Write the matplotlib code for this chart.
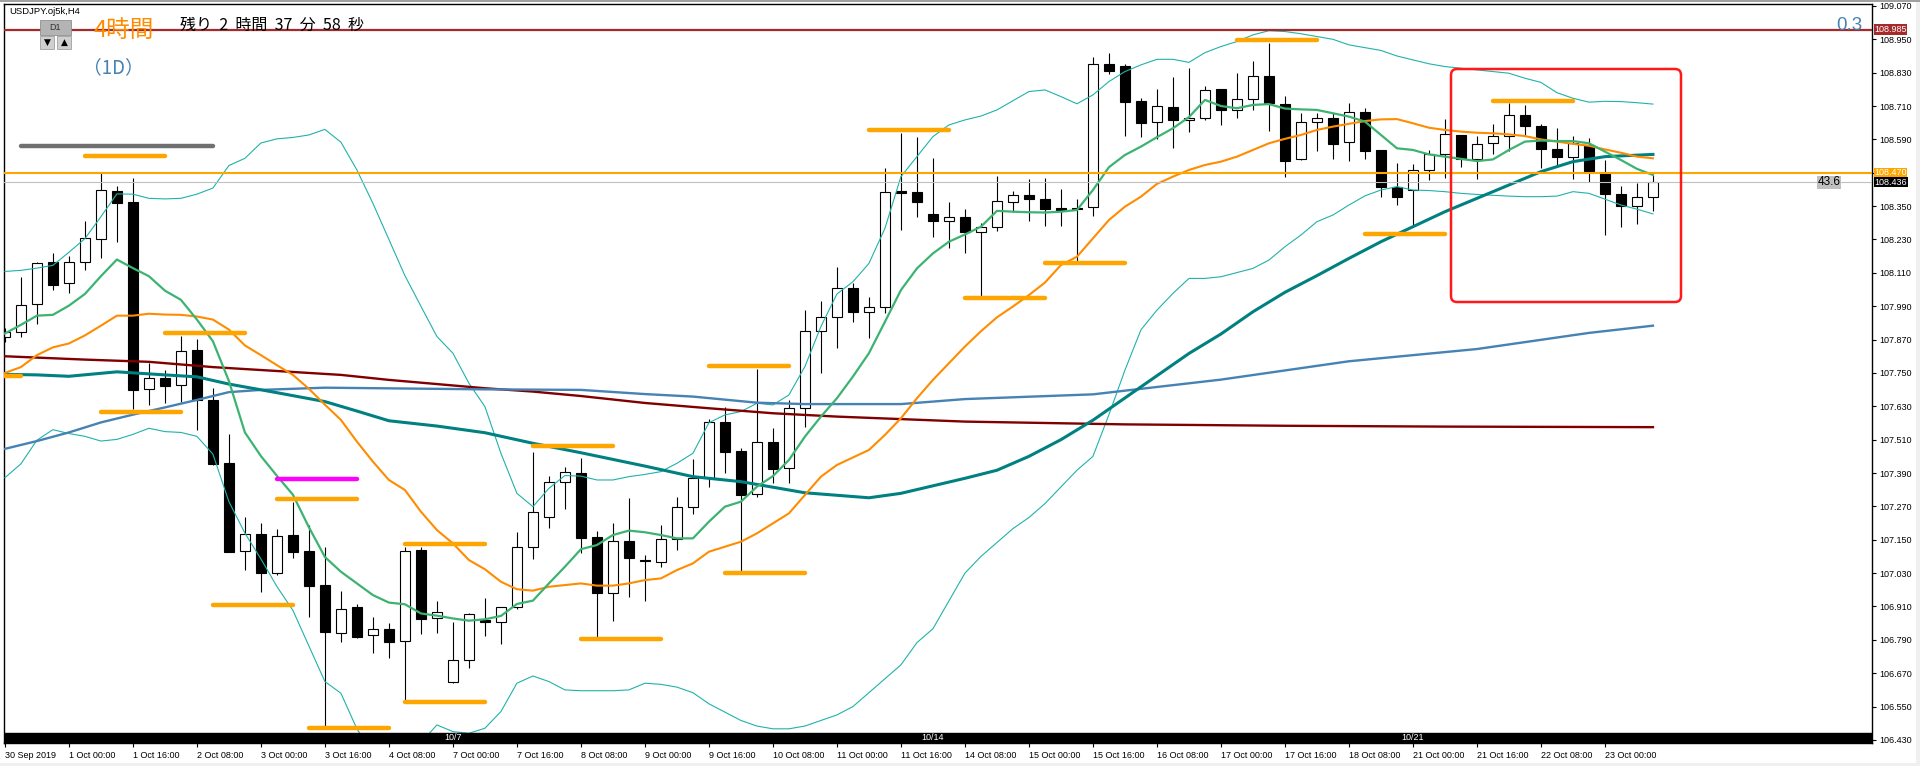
import numpy as np
import matplotlib
matplotlib.use("Agg")
import matplotlib.pyplot as plt
from matplotlib.patches import Rectangle, FancyBboxPatch
from matplotlib.transforms import IdentityTransform, blended_transform_factory

plt.rcParams['font.family'] = ['Liberation Sans', 'DejaVu Sans']

# --- H4 candles, bar 0 = 30 Sep 08:00 ---
opens = [107.881, 107.896, 107.997, 108.148, 108.073, 108.148, 108.230, 108.403, 108.366, 107.691,
         107.733, 107.706, 107.832, 107.653, 107.425, 107.110, 107.169, 107.032, 107.167, 107.110,
         106.987, 106.816, 106.908, 106.806, 106.828, 106.785, 107.113, 106.867, 106.640, 106.718,
         106.861, 106.853, 106.907, 107.125, 107.233, 107.359, 107.389, 107.159, 106.957, 107.146,
         107.077, 107.071, 107.152, 107.267, 107.373, 107.572, 107.469, 107.313, 107.500, 107.407,
         107.623, 107.901, 107.950, 108.054, 107.968, 107.986, 108.404, 108.400, 108.321, 108.297,
         108.310, 108.256, 108.276, 108.366, 108.389, 108.375, 108.342, 108.345, 108.346, 108.860,
         108.854, 108.728, 108.651, 108.707, 108.658, 108.666, 108.771, 108.694, 108.734, 108.818,
         108.718, 108.518, 108.652, 108.666, 108.580, 108.690, 108.552, 108.420, 108.408, 108.480,
         108.536, 108.606, 108.520, 108.576, 108.604, 108.678, 108.638, 108.556, 108.528, 108.570,
         108.468, 108.393, 108.352, 108.382]
highs = [107.913, 108.095, 108.148, 108.181, 108.169, 108.297, 108.471, 108.422, 108.451, 107.785,
         107.761, 107.883, 107.871, 107.696, 107.529, 107.231, 107.209, 107.188, 107.287, 107.202,
         107.124, 106.966, 106.919, 106.873, 106.852, 107.125, 107.125, 106.930, 106.855, 106.885,
         106.942, 106.907, 107.177, 107.465, 107.379, 107.413, 107.443, 107.182, 107.209, 107.299,
         107.095, 107.203, 107.305, 107.441, 107.584, 107.626, 107.479, 107.763, 107.551, 107.653,
         107.977, 108.009, 108.130, 108.075, 108.024, 108.486, 108.612, 108.598, 108.522, 108.364,
         108.340, 108.291, 108.458, 108.404, 108.446, 108.450, 108.411, 108.376, 108.885, 108.900,
         108.861, 108.738, 108.771, 108.813, 108.846, 108.782, 108.771, 108.830, 108.872, 108.938,
         108.746, 108.684, 108.684, 108.684, 108.722, 108.702, 108.552, 108.504, 108.502, 108.552,
         108.662, 108.606, 108.602, 108.646, 108.722, 108.714, 108.646, 108.630, 108.602, 108.594,
         108.516, 108.423, 108.432, 108.462]
lows = [107.860, 107.881, 107.925, 108.048, 108.038, 108.122, 108.165, 108.222, 107.619, 107.636,
        107.642, 107.647, 107.546, 107.420, 107.106, 107.043, 106.963, 107.024, 107.084, 106.871,
        106.477, 106.784, 106.796, 106.742, 106.726, 106.565, 106.810, 106.813, 106.636, 106.688,
        106.805, 106.774, 106.900, 107.080, 107.194, 107.261, 107.101, 106.798, 106.859, 106.943,
        106.931, 107.051, 107.113, 107.243, 107.338, 107.389, 107.038, 107.305, 107.353, 107.353,
        107.557, 107.751, 107.839, 107.935, 107.875, 107.964, 108.264, 108.310, 108.238, 108.198,
        108.180, 108.027, 108.262, 108.330, 108.298, 108.280, 108.280, 108.154, 108.316, 108.824,
        108.604, 108.600, 108.592, 108.560, 108.618, 108.660, 108.640, 108.668, 108.696, 108.622,
        108.453, 108.516, 108.550, 108.520, 108.512, 108.520, 108.384, 108.354, 108.279, 108.444,
        108.450, 108.492, 108.448, 108.538, 108.550, 108.606, 108.486, 108.492, 108.448, 108.438,
        108.246, 108.276, 108.286, 108.333]
closes = [107.899, 107.994, 108.144, 108.068, 108.148, 108.236, 108.407, 108.363, 107.690, 107.731,
          107.704, 107.828, 107.653, 107.423, 107.107, 107.169, 107.032, 107.164, 107.107, 106.984,
          106.817, 106.900, 106.801, 106.828, 106.784, 107.110, 106.866, 106.891, 106.718, 106.882,
          106.855, 106.907, 107.123, 107.249, 107.357, 107.393, 107.158, 106.957, 107.146, 107.086,
          107.073, 107.152, 107.267, 107.373, 107.572, 107.467, 107.311, 107.501, 107.406, 107.623,
          107.901, 107.950, 108.054, 107.968, 107.986, 108.400, 108.396, 108.364, 108.298, 108.310,
          108.256, 108.274, 108.367, 108.389, 108.375, 108.339, 108.336, 108.341, 108.860, 108.837,
          108.726, 108.650, 108.710, 108.658, 108.666, 108.767, 108.694, 108.734, 108.818, 108.720,
          108.514, 108.652, 108.666, 108.574, 108.690, 108.550, 108.420, 108.382, 108.480, 108.536,
          108.608, 108.520, 108.572, 108.604, 108.678, 108.638, 108.556, 108.528, 108.576, 108.478,
          108.394, 108.352, 108.382, 108.436]

# --- indicator lines (value per bar) ---
bb_upper = [108.115, 108.119, 108.127, 108.137, 108.184, 108.233, 108.312, 108.394, 108.393, 108.378,
            108.376, 108.378, 108.393, 108.415, 108.496, 108.522, 108.577, 108.592, 108.597, 108.606,
            108.626, 108.580, 108.480, 108.360, 108.230, 108.100, 107.990, 107.881, 107.821, 107.713,
            107.629, 107.461, 107.317, 107.269, 107.335, 107.381, 107.379, 107.365, 107.365, 107.377,
            107.385, 107.395, 107.425, 107.461, 107.571, 107.599, 107.611, 107.641, 107.635, 107.671,
            107.773, 107.917, 108.034, 108.078, 108.144, 108.270, 108.456, 108.528, 108.600, 108.642,
            108.660, 108.674, 108.696, 108.729, 108.762, 108.768, 108.744, 108.718, 108.750, 108.798,
            108.834, 108.858, 108.878, 108.878, 108.867, 108.902, 108.924, 108.942, 108.966, 108.981,
            108.978, 108.970, 108.960, 108.950, 108.930, 108.920, 108.910, 108.890, 108.876, 108.862,
            108.852, 108.846, 108.840, 108.834, 108.828, 108.810, 108.795, 108.758, 108.738, 108.724,
            108.727, 108.726, 108.722, 108.717]
bb_lower = [107.373, 107.423, 107.508, 107.546, 107.532, 107.522, 107.505, 107.511, 107.529, 107.551,
            107.539, 107.536, 107.522, 107.458, 107.287, 107.174, 107.081, 106.982, 106.896, 106.768,
            106.640, 106.598, 106.470, 106.380, 106.330, 106.330, 106.420, 106.484, 106.460, 106.454,
            106.472, 106.532, 106.634, 106.660, 106.640, 106.610, 106.607, 106.607, 106.607, 106.610,
            106.634, 106.630, 106.620, 106.600, 106.560, 106.530, 106.500, 106.480, 106.470, 106.470,
            106.480, 106.500, 106.520, 106.550, 106.600, 106.650, 106.700, 106.780, 106.830, 106.930,
            107.030, 107.090, 107.140, 107.190, 107.230, 107.280, 107.340, 107.400, 107.450, 107.600,
            107.760, 107.905, 107.976, 108.036, 108.090, 108.090, 108.096, 108.111, 108.126, 108.156,
            108.204, 108.246, 108.294, 108.318, 108.354, 108.387, 108.408, 108.420, 108.408, 108.406,
            108.402, 108.396, 108.392, 108.389, 108.386, 108.384, 108.384, 108.386, 108.402, 108.396,
            108.375, 108.354, 108.339, 108.322]
ma_green = [107.892, 107.923, 107.956, 107.959, 107.992, 108.034, 108.098, 108.158, 108.127, 108.098,
            108.046, 108.013, 107.942, 107.864, 107.721, 107.536, 107.451, 107.380, 107.312, 107.195,
            107.088, 107.035, 106.993, 106.951, 106.924, 106.918, 106.885, 106.877, 106.867, 106.859,
            106.864, 106.876, 106.919, 106.931, 106.993, 107.053, 107.116, 107.131, 107.167, 107.183,
            107.177, 107.167, 107.155, 107.155, 107.215, 107.269, 107.287, 107.341, 107.379, 107.437,
            107.521, 107.593, 107.659, 107.737, 107.821, 107.934, 108.048, 108.126, 108.180, 108.222,
            108.248, 108.276, 108.333, 108.330, 108.328, 108.327, 108.330, 108.336, 108.408, 108.490,
            108.534, 108.564, 108.598, 108.630, 108.670, 108.732, 108.710, 108.702, 108.714, 108.717,
            108.701, 108.698, 108.696, 108.684, 108.672, 108.654, 108.606, 108.558, 108.552, 108.536,
            108.528, 108.520, 108.512, 108.518, 108.552, 108.582, 108.586, 108.584, 108.584, 108.576,
            108.546, 108.516, 108.484, 108.462]
ma_orange = [107.750, 107.771, 107.814, 107.842, 107.856, 107.885, 107.920, 107.956, 107.956, 107.963,
             107.960, 107.959, 107.953, 107.942, 107.906, 107.849, 107.814, 107.778, 107.743, 107.693,
             107.636, 107.581, 107.503, 107.431, 107.365, 107.329, 107.251, 107.185, 107.137, 107.077,
             107.044, 106.999, 106.972, 106.967, 106.981, 106.987, 106.993, 106.985, 106.985, 106.993,
             107.005, 107.011, 107.041, 107.065, 107.107, 107.125, 107.143, 107.173, 107.209, 107.245,
             107.311, 107.377, 107.419, 107.446, 107.473, 107.527, 107.587, 107.659, 107.725, 107.785,
             107.845, 107.900, 107.950, 107.989, 108.030, 108.075, 108.138, 108.168, 108.234, 108.300,
             108.348, 108.384, 108.430, 108.456, 108.480, 108.498, 108.510, 108.528, 108.552, 108.576,
             108.592, 108.606, 108.624, 108.636, 108.646, 108.656, 108.662, 108.663, 108.648, 108.632,
             108.624, 108.618, 108.614, 108.612, 108.608, 108.602, 108.590, 108.582, 108.574, 108.567,
             108.554, 108.542, 108.528, 108.522]

# slower averages, read at a few bars
teal_x = [0, 2, 4, 7, 10, 12, 14, 17, 20, 22, 24, 27, 30, 33, 36, 40, 43, 46, 50, 54, 56, 60,
          62, 64, 66, 68, 70, 72, 74, 76, 78, 80, 82, 84, 86, 88, 90, 92, 94, 96, 98, 100, 103]
teal_y = [107.745, 107.743, 107.738, 107.754, 107.743, 107.736, 107.710, 107.679, 107.647, 107.613,
          107.578, 107.559, 107.535, 107.497, 107.463, 107.415, 107.377, 107.359, 107.319, 107.301,
          107.317, 107.371, 107.400, 107.450, 107.510, 107.580, 107.660, 107.740, 107.820, 107.890,
          107.970, 108.040, 108.100, 108.162, 108.222, 108.276, 108.330, 108.378, 108.426, 108.474,
          108.510, 108.528, 108.536]
blue_x = [0, 2, 4, 6, 8, 10, 12, 14, 16, 20, 30, 36, 40, 43, 47, 50, 56, 60, 68, 76, 84, 92, 99, 103]
blue_y = [107.477, 107.505, 107.536, 107.572, 107.600, 107.626, 107.653, 107.681, 107.689, 107.697,
          107.691, 107.689, 107.674, 107.665, 107.643, 107.638, 107.638, 107.656, 107.673, 107.726,
          107.792, 107.836, 107.894, 107.920]
red_x = [0, 5, 9, 13, 17, 21, 24, 27, 30, 33, 36, 40, 44, 48, 52, 56, 60, 70, 80, 90, 103]
red_y = [107.810, 107.798, 107.790, 107.771, 107.757, 107.743, 107.725, 107.710, 107.695, 107.683,
         107.667, 107.642, 107.623, 107.605, 107.593, 107.584, 107.575, 107.565, 107.560, 107.557,
         107.555]

# short drawn levels (start bar, end bar, price)
seg_start = [1, -4, 5, 10, 6, 17, 17, 13, 19, 25, 25, 33, 36, 44, 45, 54, 60, 65, 77, 85, 93]
seg_end = [13, 1, 10, 15, 11, 22, 22, 18, 24, 30, 30, 38, 41, 49, 50, 59, 65, 70, 82, 90, 98]
seg_price = [108.567, 107.738, 108.529, 107.892, 107.611, 107.367, 107.296, 106.915, 106.472,
             107.134, 106.565, 107.487, 106.792, 107.775, 107.029, 108.623, 108.018, 108.145,
             108.948, 108.250, 108.729]
seg_color = ['#707070', '#FFA500', '#FFA500', '#FFA500', '#FFA500', '#FF00FF', '#FFA500', '#FFA500',
             '#FFA500', '#FFA500', '#FFA500', '#FFA500', '#FFA500', '#FFA500', '#FFA500', '#FFA500',
             '#FFA500', '#FFA500', '#FFA500', '#FFA500', '#FFA500']

level_red = 108.985
level_orange = 108.470
bid = 108.436

tick_bars = list(range(0, 104, 4))
tick_labels = ["30 Sep 2019", "1 Oct 00:00", "1 Oct 16:00", "2 Oct 08:00", "3 Oct 00:00",
               "3 Oct 16:00", "4 Oct 08:00", "7 Oct 00:00", "7 Oct 16:00", "8 Oct 08:00",
               "9 Oct 00:00", "9 Oct 16:00", "10 Oct 08:00", "11 Oct 00:00", "11 Oct 16:00",
               "14 Oct 08:00", "15 Oct 00:00", "15 Oct 16:00", "16 Oct 08:00", "17 Oct 00:00",
               "17 Oct 16:00", "18 Oct 08:00", "21 Oct 00:00", "21 Oct 16:00", "22 Oct 08:00",
               "23 Oct 00:00"]
week_bars = [28, 58, 88]
week_labels = ["10/7", "10/14", "10/21"]
price_ticks = [106.430, 106.550, 106.670, 106.790, 106.910, 107.030, 107.150, 107.270, 107.390,
               107.510, 107.630, 107.750, 107.870, 107.990, 108.110, 108.230, 108.350, 108.470,
               108.590, 108.710, 108.830, 108.950, 109.070]

W, H = 1920, 766
fig = plt.figure(figsize=(W / 100, H / 100), dpi=100, facecolor='white')
ax = fig.add_axes([4 / W, 23 / H, 1868 / W, 739 / H])
ax.set_facecolor('white')

o = np.array(opens); c = np.array(closes)
hi = np.array(highs); lo = np.array(lows)
xb = np.arange(len(o))

# candles
ax.vlines(xb, lo, hi, color='black', lw=0.8, zorder=2)
body_lo = np.minimum(o, c)
body_h = np.maximum(np.abs(c - o), 0.004)
ax.bar(xb, body_h, bottom=body_lo, width=0.62,
       color=np.where(c >= o, 'white', 'black'), edgecolor='black', linewidth=0.8, zorder=2.5)

# indicators
ax.plot(xb, bb_upper, color='#20B2AA', lw=0.8, zorder=3)
ax.plot(xb, bb_lower, color='#20B2AA', lw=0.8, zorder=3)
ax.plot(red_x, red_y, color='#800000', lw=1.7, zorder=3)
ax.plot(blue_x, blue_y, color='#4682B4', lw=1.7, zorder=3)
ax.plot(teal_x, teal_y, color='#008080', lw=2.2, zorder=3)
ax.plot(xb, ma_orange, color='#FF8C00', lw=1.5, zorder=3)
ax.plot(xb, ma_green, color='#3CB371', lw=1.6, zorder=3)

# horizontal levels
ax.axhline(level_red, color='#A52A2A', lw=1.6, zorder=3)
ax.axhline(level_orange, color='#FFA500', lw=1.5, zorder=3)
ax.axhline(bid, color='#C0C0C0', lw=0.8, zorder=3)

for s, e, p, col in zip(seg_start, seg_end, seg_price, seg_color):
    ax.plot([s, e], [p, p], color=col, lw=3.2, solid_capstyle='round', zorder=4)

ax.set_xlim(-0.056, 116.69)
ax.set_ylim(106.419, 109.077)

# black period bar at the bottom
ax.axhspan(106.419, 106.455, color='black', zorder=6)
for b, t in zip(week_bars, week_labels):
    ax.text(b, 106.437, t, color='white', fontsize=6.5, ha='center', va='center', zorder=7)

ax.yaxis.tick_right()
ax.set_yticks(price_ticks)
# the 108.470 tick label sits under the orange price tag
ax.set_yticklabels(["" if abs(v - level_orange) < 1e-6 else f"{v:.3f}" for v in price_ticks])
ax.tick_params(axis='y', length=3, width=0.8, pad=2, labelsize=6.5, colors='black')
ax.set_xticks(tick_bars)
ax.set_xticklabels(tick_labels, ha='left')
ax.tick_params(axis='x', length=3, width=0.8, pad=3, labelsize=6.5)
for sp in ax.spines.values():
    sp.set_color('black')
    sp.set_linewidth(1)

# price tags on the right axis
bt = blended_transform_factory(ax.transAxes, ax.transData)
for val, fc in [(level_red, '#A52A2A'), (level_orange, '#FFA500'), (bid, 'black')]:
    ax.text(1.0012, val, f"{val:.3f}", transform=bt, color='white', fontsize=6.5,
            ha='left', va='center', clip_on=False, zorder=8,
            bbox=dict(boxstyle='square,pad=0.08', fc=fc, ec='none'))

ax.text(114.0, bid, "43.6", color='black', fontsize=8.5, ha='center', va='center', zorder=8,
        bbox=dict(boxstyle='square,pad=0.05', fc='#C0C0C0', ec='none'))
ax.text(116.07, 108.998, "0.3", color='#4682B4', fontsize=13.5, ha='right', va='center', zorder=8)

# chart header texts
def fx(x):
    return x / W

def fy(y):
    return 1 - y / H

fig.text(fx(9), fy(12), "USDJPY.oj5k,H4", fontsize=6.8, color='black', va='center')
fig.text(fx(93), fy(30), "4時間", fontsize=17, color='#FF8C00', va='center',
         family=['Noto Sans CJK JP', 'DejaVu Sans'])
fig.text(fx(83), fy(68), "（1D）", fontsize=13.5, color='#4682B4', va='center',
         family=['Noto Sans CJK JP', 'DejaVu Sans'])
fig.text(fx(180), fy(25), "残り  2  時間  37  分  58  秒", fontsize=11.5, color='black', va='center',
         family=['Noto Sans CJK JP', 'DejaVu Sans'])

# D1 switch buttons
fig.add_artist(Rectangle((fx(40), fy(35)), 31 / W, 15 / H, transform=fig.transFigure,
                         fc='#B4B4B4', ec='#909090', lw=0.6, zorder=9))
fig.text(fx(55.5), fy(27.5), "D1", fontsize=6.5, color='#303030', ha='center', va='center', zorder=10)
for bx, sym in [(40, "▼"), (57, "▲")]:
    fig.add_artist(Rectangle((fx(bx), fy(49)), 14 / W, 13 / H, transform=fig.transFigure,
                             fc='#D0D0D0', ec='#A0A0A0', lw=0.6, zorder=9))
    fig.text(fx(bx + 7), fy(42.5), sym, fontsize=6.5, color='black', ha='center', va='center',
             family=['DejaVu Sans'], zorder=10)

# highlight box
fig.add_artist(FancyBboxPatch((1451, H - 302), 230, 233, boxstyle="round,pad=0,rounding_size=6",
                              transform=IdentityTransform(), fc='none', ec='#FF1A1A', lw=1.8,
                              zorder=9))

# window frame
fig.add_artist(Rectangle((0, 0), 1, 3 / H, transform=fig.transFigure, fc='#F0F0F0', ec='none'))
fig.add_artist(Rectangle((1 - 4 / W, 0), 4 / W, 1, transform=fig.transFigure, fc='#F0F0F0', ec='none'))
fig.add_artist(Rectangle((0, 1 - 2 / H), 1, 2 / H, transform=fig.transFigure, fc='#A0A0A0', ec='none'))

fig.savefig("out.png", dpi=100, facecolor='white')
